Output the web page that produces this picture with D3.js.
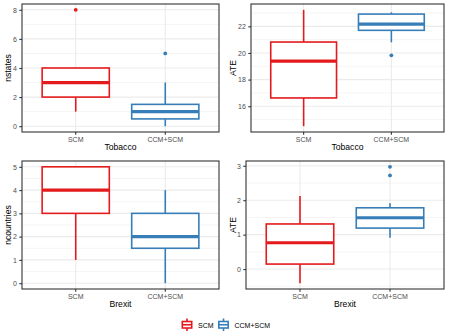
<!DOCTYPE html>
<meta charset="utf-8">
<script src="https://cdn.jsdelivr.net/npm/d3@7"></script>
<style>
  body { margin: 0; background: #fff; }
  svg { font-family: 'Liberation Sans', Arial, sans-serif; display: block; }
</style>
<svg width="449" height="336"></svg>
<script>
// groups on the x axis
const groups = ['SCM', 'CCM+SCM']
const colors = ['#E41A1C', '#377EB8']

// box stats per group: [lower whisker, q1, median, q3, upper whisker]
const nstatesStats = [[1, 2, 3, 4, 4], [0, 0.5, 1, 1.5, 3]]
const nstatesOutliers = [[8], [5]]
const nstatesTicks = [0, 2, 4, 6, 8]

const tobaccoAteStats = [[14.5, 16.62, 19.39, 20.82, 23.24], [20.8, 21.7, 22.17, 22.92, 23.05]]
const tobaccoAteOutliers = [[], [19.82]]
const tobaccoAteTicks = [16, 18, 20, 22]

const ncountriesStats = [[1, 3, 4, 5, 5], [0, 1.5, 2, 3, 4]]
const ncountriesOutliers = [[], []]
const ncountriesTicks = [0, 1, 2, 3, 4, 5]

const brexitAteStats = [[-0.41, 0.145, 0.765, 1.31, 2.12], [0.91, 1.19, 1.49, 1.78, 1.91]]
const brexitAteOutliers = [[], [2.72, 2.97]]
const brexitAteTicks = [0, 1, 2, 3]

const panels = [
  { stats: nstatesStats, outliers: nstatesOutliers, ticks: nstatesTicks, ylab: 'nstates', xlab: 'Tobacco',
    x0: 22, x1: 219, y0: 4, y1: 132, ylabX: 8 },
  { stats: tobaccoAteStats, outliers: tobaccoAteOutliers, ticks: tobaccoAteTicks, ylab: 'ATE', xlab: 'Tobacco',
    x0: 251, x1: 444, y0: 4, y1: 132, ylabX: 233 },
  { stats: ncountriesStats, outliers: ncountriesOutliers, ticks: ncountriesTicks, ylab: 'ncountries', xlab: 'Brexit',
    x0: 22, x1: 219, y0: 161, y1: 289, ylabX: 7.5 },
  { stats: brexitAteStats, outliers: brexitAteOutliers, ticks: brexitAteTicks, ylab: 'ATE', xlab: 'Brexit',
    x0: 246, x1: 444, y0: 161, y1: 289, ylabX: 233 }
]

const svg = d3.select('svg')

panels.forEach(p => {
  const vals = p.stats.flat().concat(p.outliers.flat())
  const [lo, hi] = d3.extent(vals)
  const pad = (hi - lo) * 0.05
  const y = d3.scaleLinear().domain([lo - pad, hi + pad]).range([p.y1, p.y0])
  const x = d3.scaleBand().domain(groups).range([p.x0, p.x1]).paddingOuter(0.1)
  const cx = d => x(d) + x.bandwidth() / 2
  const bw = x.bandwidth() * 0.75

  const g = svg.append('g')

  // minor grid
  const step = p.ticks[1] - p.ticks[0]
  const minors = [p.ticks[0] - step / 2].concat(p.ticks.map(t => t + step / 2))
    .filter(v => v >= y.domain()[0] && v <= y.domain()[1])
  g.selectAll('.minor').data(minors).join('line')
    .attr('x1', p.x0).attr('x2', p.x1)
    .attr('y1', d => y(d)).attr('y2', d => y(d))
    .attr('stroke', '#EBEBEB').attr('stroke-width', 0.55)

  // major grid
  g.selectAll('.major').data(p.ticks).join('line')
    .attr('x1', p.x0).attr('x2', p.x1)
    .attr('y1', d => y(d)).attr('y2', d => y(d))
    .attr('stroke', '#EBEBEB').attr('stroke-width', 1.1)
  g.selectAll('.vmajor').data(groups).join('line')
    .attr('x1', d => cx(d)).attr('x2', d => cx(d))
    .attr('y1', p.y0).attr('y2', p.y1)
    .attr('stroke', '#EBEBEB').attr('stroke-width', 1.1)

  // boxes
  groups.forEach((grp, i) => {
    const s = p.stats[i]
    const c = colors[i]
    const xc = cx(grp)
    const bg = g.append('g').attr('stroke', c).attr('stroke-width', 1.6)
    bg.append('line').attr('x1', xc).attr('x2', xc).attr('y1', y(s[0])).attr('y2', y(s[1]))
    bg.append('line').attr('x1', xc).attr('x2', xc).attr('y1', y(s[3])).attr('y2', y(s[4]))
    bg.append('rect')
      .attr('x', xc - bw / 2).attr('width', bw)
      .attr('y', y(s[3])).attr('height', y(s[1]) - y(s[3]))
      .attr('fill', '#fff')
    bg.append('line')
      .attr('x1', xc - bw / 2).attr('x2', xc + bw / 2)
      .attr('y1', y(s[2])).attr('y2', y(s[2]))
      .attr('stroke-width', 3.2)
    g.selectAll(null).data(p.outliers[i]).join('circle')
      .attr('cx', xc).attr('cy', d => y(d)).attr('r', 1.9)
      .attr('fill', c)
  })

  // panel border
  g.append('rect')
    .attr('x', p.x0).attr('y', p.y0)
    .attr('width', p.x1 - p.x0).attr('height', p.y1 - p.y0)
    .attr('fill', 'none').attr('stroke', '#333333').attr('stroke-width', 1.1)

  // y axis
  const ya = g.append('g').attr('transform', `translate(${p.x0},0)`)
    .call(d3.axisLeft(y).tickValues(p.ticks).tickFormat(d3.format('d')).tickSize(2.7).tickPadding(2.5))
  ya.select('.domain').remove()
  ya.selectAll('line').attr('stroke', '#333333').attr('stroke-width', 1.1)
  ya.selectAll('text').attr('fill', '#4D4D4D').style('font-size', '7px')

  // x axis
  const xa = g.append('g').attr('transform', `translate(0,${p.y1})`)
    .call(d3.axisBottom(x).tickSize(2.7).tickPadding(2.5))
  xa.select('.domain').remove()
  xa.selectAll('line').attr('stroke', '#333333').attr('stroke-width', 1.1)
  xa.selectAll('text').attr('fill', '#4D4D4D').style('font-size', '7px')

  // titles
  g.append('text')
    .attr('x', (p.x0 + p.x1) / 2).attr('y', p.y1 + 18)
    .attr('text-anchor', 'middle').style('font-size', '8.6px')
    .text(p.xlab)
  g.append('text')
    .attr('transform', `translate(${p.ylabX + 3},${(p.y0 + p.y1) / 2}) rotate(-90)`)
    .attr('text-anchor', 'middle').style('font-size', '8.6px')
    .text(p.ylab)
})

// legend
const legend = svg.append('g')
const keyX = [181.5, 218]
groups.forEach((grp, i) => {
  const k = legend.append('g').attr('transform', `translate(${keyX[i]},318)`)
  k.append('line').attr('x1', 5.5).attr('x2', 5.5).attr('y1', 0.5).attr('y2', 13)
    .attr('stroke', colors[i]).attr('stroke-width', 1.6)
  k.append('rect').attr('x', 0.8).attr('y', 3.5).attr('width', 9.4).attr('height', 6.5)
    .attr('fill', '#fff').attr('stroke', colors[i]).attr('stroke-width', 1.6)
  k.append('line').attr('x1', 0.8).attr('x2', 10.2).attr('y1', 6.75).attr('y2', 6.75)
    .attr('stroke', colors[i]).attr('stroke-width', 1.6)
  k.append('text').attr('x', 16.5).attr('y', 9.5)
    .style('font-size', '7px').attr('fill', '#000')
    .text(grp)
})
</script>
